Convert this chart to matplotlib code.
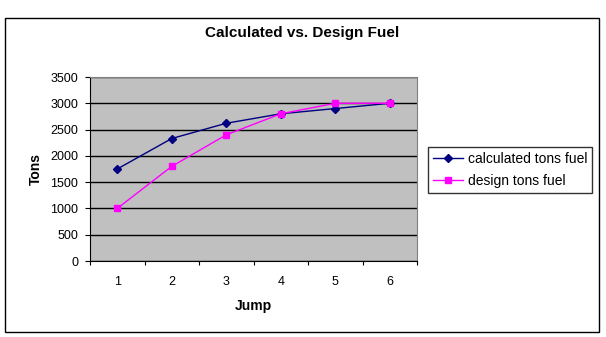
import numpy as np
import matplotlib.pyplot as plt
from matplotlib.patches import Rectangle

plt.rcParams['font.family'] = ['Liberation Sans', 'DejaVu Sans']

# Data
jumps = [1, 2, 3, 4, 5, 6]
calculated = [1750, 2330, 2620, 2800, 2900, 3000]
design = [1000, 1800, 2400, 2800, 3000, 3000]
y_ticks = [0, 500, 1000, 1500, 2000, 2500, 3000, 3500]

W, H = 606, 337
fig = plt.figure(figsize=(W / 100, H / 100), dpi=100)
fig.patch.set_facecolor('white')

# outer chart frame
fig.add_artist(Rectangle((5 / W, 1 - 332 / H), 594 / W, 314 / H,
                         transform=fig.transFigure, fill=False,
                         edgecolor='black', linewidth=1))

ax = fig.add_axes([90 / W, 1 - 261 / H, 327 / W, 184 / H])
ax.set_facecolor('#C0C0C0')

ax.plot(jumps, calculated, color='#000080', marker='D', markersize=4.5,
        linewidth=1, label='calculated tons fuel')
ax.plot(jumps, design, color='#FF00FF', marker='s', markersize=5,
        linewidth=1, label='design tons fuel')

ax.set_xlim(0.5, 6.5)
ax.set_ylim(0, 3500)

# category axis: ticks between categories, labels at centres
ax.set_xticks(np.arange(0.5, 7, 1))
ax.set_xticklabels([])
ax.set_xticks(jumps, minor=True)
ax.set_xticklabels([str(j) for j in jumps], minor=True)
ax.tick_params(axis='x', which='minor', length=0, pad=11, labelsize=9)
ax.tick_params(axis='x', which='major', length=3, direction='out', color='black')

ax.set_yticks(y_ticks)
ax.tick_params(axis='y', length=3.5, direction='out', labelsize=9, pad=5)

ax.grid(axis='y', color='black', linewidth=1)
ax.set_axisbelow(True)

for side in ['top', 'right']:
    ax.spines[side].set_color('#808080')
for side in ['left', 'bottom']:
    ax.spines[side].set_color('black')

ax.set_xlabel('Jump', fontsize=10, fontweight='bold', labelpad=8)
ax.set_ylabel('Tons', fontsize=10, fontweight='bold', labelpad=5)

fig.text(302 / W, 1 - 33 / H, 'Calculated vs. Design Fuel', ha='center',
         va='center', fontsize=11, fontweight='bold')

leg = fig.legend(loc='upper left', bbox_to_anchor=(428 / W, 1 - 147 / H),
                 fontsize=10, frameon=True, fancybox=False, borderpad=0.35,
                 handlelength=2.2, labelspacing=0.6, handletextpad=0.3,
                 borderaxespad=0)
leg.get_frame().set_edgecolor('black')
leg.get_frame().set_linewidth(1)

fig.savefig('out.png', dpi=100)
